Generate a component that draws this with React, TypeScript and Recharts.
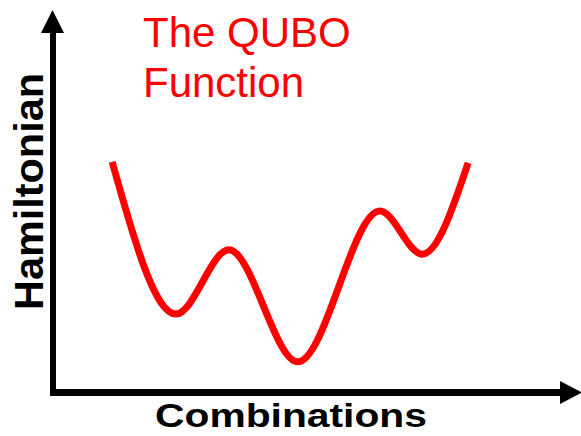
import React from "react";
import { LineChart, Line, XAxis, YAxis } from "recharts";

// Position along the combination axis and the Hamiltonian value at each turning point
const combination = [1.16, 2.41, 3.45, 4.8, 6.41, 7.24, 8.14];
const hamiltonian = [6.41, 2.17, 3.96, 0.84, 5.04, 3.84, 6.38];

const titleLines = ["The QUBO", "Function"];
const xLabel = "Combinations";
const yLabel = "Hamiltonian";

const data = combination.map((c, i) => ({ c, h: hamiltonian[i] }));

const W = 581;
const H = 436;

export default function App() {
  return (
    <div style={{ position: "absolute", left: 0, top: 0, width: W, height: H, background: "#fff" }}>
      <LineChart
        width={W}
        height={H}
        data={data}
        margin={{ top: 33, right: 18, bottom: 44, left: 53 }}
      >
        <XAxis dataKey="c" type="number" domain={[0, 10]} hide />
        <YAxis type="number" domain={[0, 10]} hide />
        <Line
          type="monotone"
          dataKey="h"
          stroke="#ff0000"
          strokeWidth={7}
          dot={false}
          isAnimationActive={false}
        />
      </LineChart>
      <svg
        width={W}
        height={H}
        style={{ position: "absolute", left: 0, top: 0, pointerEvents: "none" }}
      >
        {/* axes with arrowheads */}
        <line x1={53} y1={396} x2={53} y2={30} stroke="#000" strokeWidth={6} />
        <polygon points="41,33 64,33 52.5,10" fill="#000" />
        <line x1={50} y1={392.5} x2={562} y2={392.5} stroke="#000" strokeWidth={7} />
        <polygon points="560,381 560,404 582,392.5" fill="#000" />

        {/* title */}
        <text x={143} y={47} fill="#ff0000" fontFamily="Liberation Sans, Arial, sans-serif" fontSize={42}>
          {titleLines[0]}
        </text>
        <text x={143} y={97} fill="#ff0000" fontFamily="Liberation Sans, Arial, sans-serif" fontSize={42}>
          {titleLines[1]}
        </text>

        {/* axis labels */}
        <text
          x={155}
          y={427}
          fill="#000"
          fontFamily="Liberation Sans, Arial, sans-serif"
          fontWeight="bold"
          fontSize={34}
          textLength={272}
          lengthAdjust="spacingAndGlyphs"
        >
          {xLabel}
        </text>
        <text
          transform="translate(43,310) rotate(-90)"
          fill="#000"
          fontFamily="Liberation Sans, Arial, sans-serif"
          fontWeight="bold"
          fontSize={41}
          textLength={237}
          lengthAdjust="spacingAndGlyphs"
        >
          {yLabel}
        </text>
      </svg>
    </div>
  );
}
